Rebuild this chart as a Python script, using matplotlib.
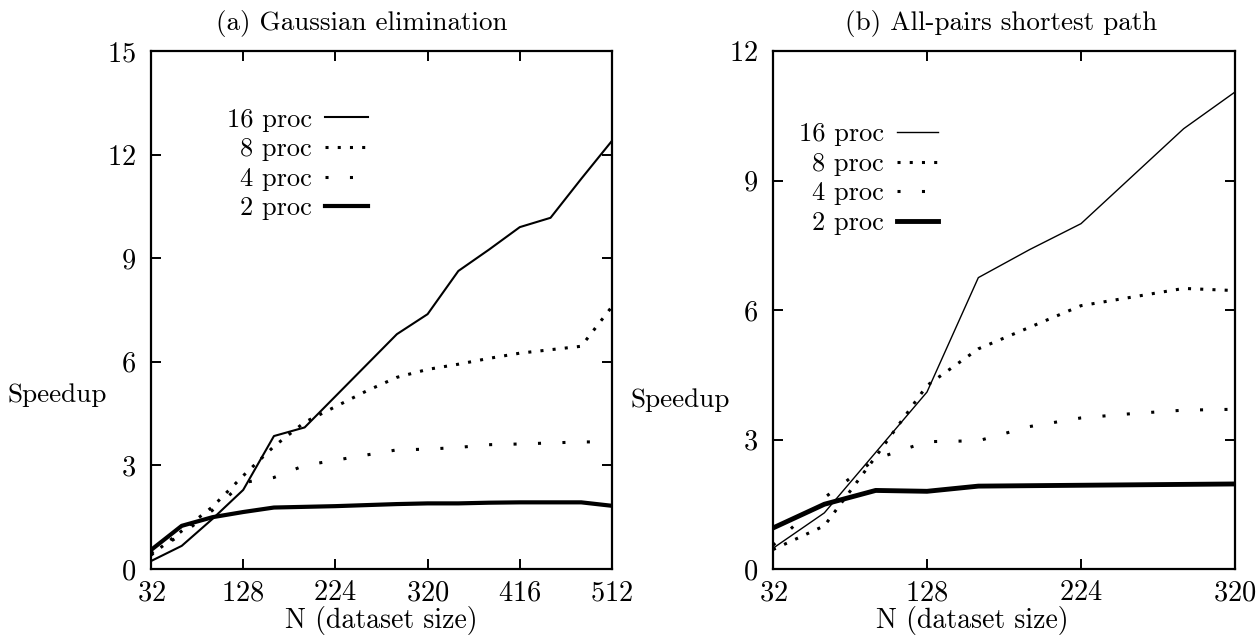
import numpy as np
import matplotlib
matplotlib.use('Agg')
import matplotlib.pyplot as plt

plt.rcParams['font.family'] = 'cmr10'
plt.rcParams['mathtext.fontset'] = 'cm'
plt.rcParams['axes.formatter.use_mathtext'] = True

# (a) Gaussian elimination
n_gauss = [32, 64, 96, 128, 160, 192, 224, 256, 288, 320, 352, 384, 416, 448, 480, 512]
gauss_16 = [0.23, 0.67, 1.45, 2.29, 3.85, 4.10, 5.0, 5.9, 6.8, 7.38, 8.63, 9.25, 9.9, 10.17, 11.3, 12.4]
gauss_8 = [0.40, 1.10, 1.80, 2.70, 3.55, 4.25, 4.70, 5.15, 5.55, 5.78, 5.93, 6.10, 6.25, 6.35, 6.45, 7.60]
gauss_4 = [0.45, 1.00, 1.70, 2.50, 2.65, 3.00, 3.15, 3.30, 3.45, 3.47, 3.52, 3.60, 3.62, 3.65, 3.68, 3.68]
gauss_2 = [0.55, 1.25, 1.50, 1.65, 1.78, 1.80, 1.82, 1.85, 1.88, 1.90, 1.90, 1.92, 1.93, 1.93, 1.93, 1.83]

# (b) All-pairs shortest path
n_apsp = [32, 64, 96, 128, 160, 192, 224, 256, 288, 320]
apsp_16 = [0.48, 1.30, 2.70, 4.10, 6.75, 7.40, 8.00, 9.10, 10.20, 11.05]
apsp_8 = [0.45, 1.00, 2.60, 4.25, 5.10, 5.60, 6.10, 6.30, 6.50, 6.45]
apsp_4 = [0.55, 1.65, 2.55, 2.95, 2.97, 3.30, 3.50, 3.60, 3.68, 3.70]
apsp_2 = [0.95, 1.50, 1.82, 1.80, 1.92, 1.93, 1.94, 1.95, 1.96, 1.97]

labels = ['16 proc', '8 proc', '4 proc', '2 proc']
FS_TICK = 20.5
FS_TEXT = 19.5
FS_LEG = 19

fig = plt.figure(figsize=(12.58, 6.39), dpi=100)
W, H = 1258, 639


def make_axes(x0, x1, y0, y1):
    return fig.add_axes([x0 / W, 1 - y1 / H, (x1 - x0) / W, (y1 - y0) / H])


def style(ax, xticks, yticks):
    ax.set_xticks(xticks)
    ax.set_yticks(yticks)
    ax.set_xlim(xticks[0], xticks[-1])
    ax.set_ylim(yticks[0], yticks[-1])
    ax.tick_params(direction='in', length=7, width=1.4, top=True, right=True,
                   labelsize=FS_TICK, pad=11)
    ax.tick_params(axis='x', pad=8)
    for s in ax.spines.values():
        s.set_linewidth(1.6)


def draw(ax, n, s16, s8, s4, s2, lw16, lw2):
    ax.plot(n, s16, color='black', lw=lw16, label=labels[0])
    ax.plot(n, s8, color='black', lw=2.2, linestyle=(0, (1, 3)), label=labels[1])
    ax.plot(n, s4, color='black', lw=2.2, linestyle=(0, (1, 7)), label=labels[2])
    ax.plot(n, s2, color='black', lw=lw2, label=labels[3])


ax1 = make_axes(151, 612, 51, 569)
draw(ax1, n_gauss, gauss_16, gauss_8, gauss_4, gauss_2, 1.5, 3.0)
style(ax1, [32, 128, 224, 320, 416, 512], [0, 3, 6, 9, 12, 15])
ax1.set_title('(a) Gaussian elimination', fontsize=FS_TEXT, pad=15, x=0.457)
ax1.set_xlabel('N (dataset size)', fontsize=20, va='center')
ax1.xaxis.set_label_coords(0.5, -0.1)
ax1.set_ylabel('Speedup', fontsize=FS_TEXT, rotation=0, ha='center', va='center')
ax1.yaxis.set_label_coords(-0.204, 0.336)
ax1.legend(loc='upper right', bbox_to_anchor=(0.471, 0.89), frameon=False, markerfirst=False,
           fontsize=FS_LEG, handlelength=1.63, handletextpad=0.5, labelspacing=0.22,
           borderpad=0, borderaxespad=0)

ax2 = make_axes(773, 1235, 51, 569)
draw(ax2, n_apsp, apsp_16, apsp_8, apsp_4, apsp_2, 1.0, 3.5)
style(ax2, [32, 128, 224, 320], [0, 3, 6, 9, 12])
ax2.set_title('(b) All-pairs shortest path', fontsize=FS_TEXT, pad=15, x=0.493)
ax2.set_xlabel('N (dataset size)', fontsize=20, va='center')
ax2.xaxis.set_label_coords(0.431, -0.1)
ax2.set_ylabel('Speedup', fontsize=FS_TEXT, rotation=0, ha='center', va='center')
ax2.yaxis.set_label_coords(-0.201, 0.326)
ax2.legend(loc='upper right', bbox_to_anchor=(0.357, 0.862), frameon=False, markerfirst=False,
           fontsize=FS_LEG, handlelength=1.55, handletextpad=0.5, labelspacing=0.22,
           borderpad=0, borderaxespad=0)

fig.savefig('out.png', dpi=100)
